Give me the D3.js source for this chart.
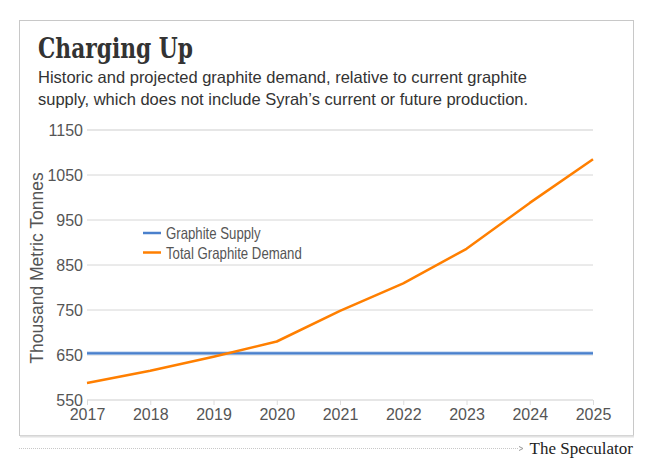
<!DOCTYPE html>
<html>
<head>
<meta charset="utf-8">
<script src="https://cdn.jsdelivr.net/npm/d3@7"></script>
<style>
  body { margin: 0; background: #fff; }
  svg { display: block; }
</style>
</head>
<body>
<svg id="chart" width="650" height="470"></svg>
<script>
// chart data
const years = [2017, 2018, 2019, 2020, 2021, 2022, 2023, 2024, 2025];
const demand = [588, 615, 646, 680, 748, 809, 886, 988, 1085];
const supply = [654, 654, 654, 654, 654, 654, 654, 654, 654];
const y_ticks = [550, 650, 750, 850, 950, 1050, 1150];
const series_names = ["Graphite Supply", "Total Graphite Demand"];

const svg = d3.select("svg#chart");
const margin = { left: 87, right: 57, top: 130, bottom: 70 };
const width = 650 - margin.left - margin.right;
const height = 470 - margin.top - margin.bottom;

// card frame
svg.append("rect")
  .attr("x", 19.5).attr("y", 20.5)
  .attr("width", 614).attr("height", 415)
  .attr("fill", "#fff")
  .attr("stroke", "#c8c8c8");
svg.append("line")
  .attr("x1", 20).attr("x2", 634)
  .attr("y1", 436.5).attr("y2", 436.5)
  .attr("stroke", "#e2e2e2").attr("stroke-width", 2);

// title + subtitle
svg.append("text")
  .attr("x", 38).attr("y", 58)
  .attr("font-family", "'DejaVu Serif', serif")
  .attr("font-stretch", "condensed")
  .attr("font-weight", "bold")
  .attr("font-size", 27)
  .attr("textLength", 155)
  .attr("lengthAdjust", "spacingAndGlyphs")
  .attr("fill", "#333")
  .text("Charging Up");

const sub = ["Historic and projected graphite demand, relative to current graphite",
             "supply, which does not include Syrah\u2019s current or future production."];
svg.selectAll("text.sub")
  .data(sub)
  .join("text")
  .attr("class", "sub")
  .attr("x", 38)
  .attr("y", (d, i) => 83 + i * 22)
  .attr("font-family", "'Liberation Sans', Arial, sans-serif")
  .attr("font-size", 16.5)
  .attr("fill", "#333")
  .text(d => d);

const x = d3.scaleLinear().domain([2017, 2025]).range([0, width]);
const y = d3.scaleLinear().domain([550, 1150]).range([height, 0]);

const g = svg.append("g")
  .attr("transform", `translate(${margin.left}, ${margin.top})`);

// gridlines
g.selectAll("line.grid")
  .data(y_ticks)
  .join("line")
  .attr("class", "grid")
  .attr("x1", 0).attr("x2", width)
  .attr("y1", d => y(d)).attr("y2", d => y(d))
  .attr("stroke", d => (d == 550 || d == 1150) ? "#e6e6e6" : "#d6d6d6")
  .attr("stroke-width", d => (d == 550 || d == 1150) ? 2 : 1);

// y axis
const y_axis = g.append("g")
  .call(d3.axisLeft(y).tickValues(y_ticks).tickSize(0).tickPadding(4).tickFormat(d3.format("d")));
y_axis.select(".domain").remove();
y_axis.selectAll("text")
  .attr("font-family", "'Liberation Sans', Arial, sans-serif")
  .attr("font-size", 16)
  .attr("fill", "#555");

// x axis
const x_axis = g.append("g")
  .attr("transform", `translate(0, ${height})`)
  .call(d3.axisBottom(x).tickValues(years).tickSize(5).tickPadding(4).tickFormat(d3.format("d")));
x_axis.select(".domain").remove();
x_axis.selectAll("line").attr("stroke", "#dcdcdc");
x_axis.selectAll("text")
  .attr("font-family", "'Liberation Sans', Arial, sans-serif")
  .attr("font-size", 16)
  .attr("fill", "#555");

// y axis title
svg.append("text")
  .attr("transform", "translate(43, 268) rotate(-90)")
  .attr("text-anchor", "middle")
  .attr("font-family", "'Liberation Sans', Arial, sans-serif")
  .attr("font-size", 17.5)
  .attr("fill", "#555")
  .text("Thousand Metric Tonnes");

// lines
const line = d3.line()
  .x((d, i) => x(years[i]))
  .y(d => y(d));

g.append("path")
  .datum(supply)
  .attr("fill", "none")
  .attr("stroke", "#a9c4e8")
  .attr("stroke-width", 3.5)
  .attr("d", line);
g.append("path")
  .datum(supply)
  .attr("fill", "none")
  .attr("stroke", "#4a80cc")
  .attr("stroke-width", 2)
  .attr("d", line);

g.append("path")
  .datum(demand)
  .attr("fill", "none")
  .attr("stroke", "#ff7f00")
  .attr("stroke-width", 2.5)
  .attr("stroke-linejoin", "round")
  .attr("d", line);

// legend (condensed look: squeeze natural width)
const legend_colors = ["#4a80cc", "#ff7f00"];
const legend = svg.append("g").attr("transform", "translate(143, 233)");
legend.selectAll("line")
  .data(series_names)
  .join("line")
  .attr("x1", 0).attr("x2", 18)
  .attr("y1", (d, i) => i * 19.5).attr("y2", (d, i) => i * 19.5)
  .attr("stroke", (d, i) => legend_colors[i])
  .attr("stroke-width", 2.5);
legend.selectAll("text")
  .data(series_names)
  .join("text")
  .attr("x", 23)
  .attr("y", (d, i) => i * 19.5 + 6)
  .attr("font-family", "'Liberation Sans', Arial, sans-serif")
  .attr("font-size", 16.5)
  .attr("fill", "#555")
  .text(d => d)
  .each(function() {
    const w = this.getComputedTextLength();
    d3.select(this).attr("textLength", w * 0.8).attr("lengthAdjust", "spacingAndGlyphs");
  });

// footer
svg.append("line")
  .attr("x1", 19).attr("x2", 519)
  .attr("y1", 448.5).attr("y2", 448.5)
  .attr("stroke", "#c8c8c8")
  .attr("stroke-dasharray", "1,1");
svg.append("path")
  .attr("d", "M519,446.5 L523,448.5 L519,450.5")
  .attr("fill", "none")
  .attr("stroke", "#999");
svg.append("text")
  .attr("x", 633).attr("y", 454)
  .attr("text-anchor", "end")
  .attr("font-family", "'Liberation Serif', 'Times New Roman', serif")
  .attr("font-size", 17)
  .attr("fill", "#222")
  .text("The Speculator");
</script>
</body>
</html>
